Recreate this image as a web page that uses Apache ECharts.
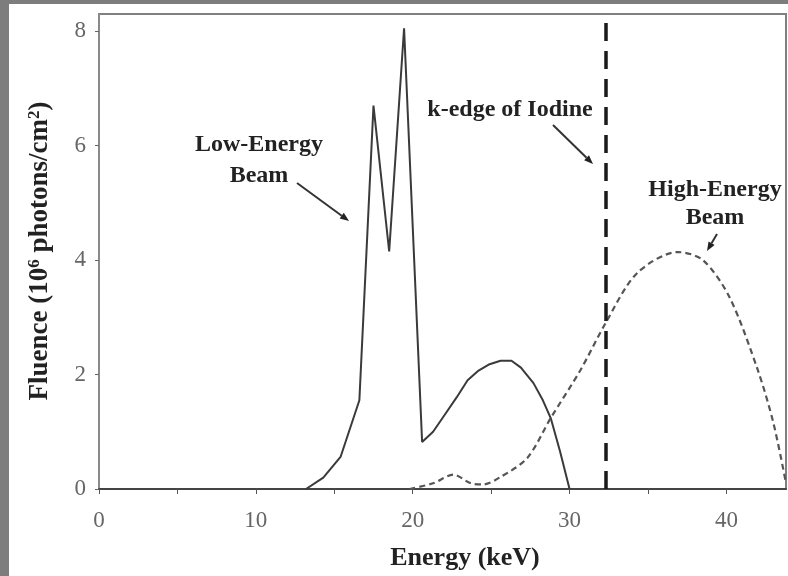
<!DOCTYPE html>
<html>
<head>
<meta charset="utf-8">
<script src="https://cdn.jsdelivr.net/npm/echarts@6/dist/echarts.min.js"></script>
<style>
  html, body { margin: 0; padding: 0; background: #fff; }
  #chart { width: 788px; height: 576px; }
</style>
</head>
<body>
<div id="chart"></div>
<script>
// energy (keV) / fluence (10^6 photons/cm^2)
var lowEnergy  = [13.2, 14.3, 15.4, 16.6, 17.5, 18.5, 19.45, 20.6, 21.3, 22.0, 22.8, 23.5, 24.2, 24.9, 25.6, 26.3, 26.9, 27.7, 28.3, 28.8, 29.4, 30.0];
var lowFluence = [0, 0.2, 0.56, 1.55, 6.7, 4.15, 8.05, 0.82, 1.0, 1.28, 1.6, 1.9, 2.07, 2.18, 2.24, 2.24, 2.12, 1.85, 1.55, 1.24, 0.65, 0];
var highEnergy  = [19.8, 21.3, 22.6, 23.7, 24.5, 25.6, 27.3, 28.8, 30.7, 32.3, 34.3, 36.9, 38.5, 40.2, 42.0, 43.0, 43.8];
var highFluence = [0, 0.1, 0.25, 0.1, 0.08, 0.21, 0.54, 1.24, 2.08, 2.9, 3.77, 4.14, 4.0, 3.35, 2.08, 1.15, 0.1];
var kEdge = 32.3;
var xTicks = [0, 5, 10, 15, 20, 25, 30, 35, 40];
var xLabels = [0, 10, 20, 30, 40];
var yTicks = [0, 2, 4, 6, 8];

var chart = echarts.init(document.getElementById("chart"));
var serif = "Liberation Serif";

function pairs(xs, ys) {
  return xs.map(function (x, i) { return [x, ys[i]]; });
}

// line with a small filled head at (x2,y2)
function arrow(x1, y1, x2, y2) {
  var a = Math.atan2(y2 - y1, x2 - x1), L = 9, W = 3.5;
  var bx = x2 - L * Math.cos(a), by = y2 - L * Math.sin(a);
  return {
    type: "group",
    children: [
      { type: "line", shape: { x1: x1, y1: y1, x2: bx, y2: by }, style: { stroke: "#333", lineWidth: 2 } },
      { type: "polygon", shape: { points: [[x2, y2],
          [bx + W * Math.sin(a), by - W * Math.cos(a)],
          [bx - W * Math.sin(a), by + W * Math.cos(a)]] },
        style: { fill: "#222" } }
    ]
  };
}

// centred bold text at (x,y)
function label(text, x, y, size, lh) {
  return {
    type: "text", x: x, y: y,
    style: { text: text, font: "bold " + size + "px '" + serif + "'", fill: "#222",
             align: "center", verticalAlign: "middle", lineHeight: lh || 28 }
  };
}

var option = {
  backgroundColor: "#fff",
  animation: false,
  grid: { left: 99, top: 14, width: 687, height: 475, show: true, borderColor: "#808080", borderWidth: 2 },
  xAxis: {
    type: "value", min: 0, max: 43.8,
    splitLine: { show: false },
    axisLine: { lineStyle: { color: "#444", width: 2 } },
    axisTick: { length: 5, customValues: xTicks, lineStyle: { color: "#555" } },
    axisLabel: { customValues: xLabels, margin: 20, color: "#666", fontFamily: serif, fontSize: 23 }
  },
  yAxis: {
    type: "value", min: 0, max: 8.3,
    splitLine: { show: false },
    axisLine: { show: true, lineStyle: { color: "#8a8a8a", width: 2 } },
    axisTick: { show: true, length: 4, customValues: yTicks, lineStyle: { color: "#666" } },
    axisLabel: { customValues: yTicks, margin: 13, color: "#666", fontFamily: serif, fontSize: 23 }
  },
  series: [
    {
      type: "line", name: "Low-Energy Beam", showSymbol: false,
      data: pairs(lowEnergy, lowFluence),
      lineStyle: { color: "#3a3a3a", width: 2 }
    },
    {
      type: "line", name: "High-Energy Beam", showSymbol: false, smooth: 0.3,
      data: pairs(highEnergy, highFluence),
      lineStyle: { color: "#555", width: 2.2, type: [6, 4] },
      markLine: {
        silent: true, symbol: "none", label: { show: false },
        lineStyle: { color: "#1a1a1a", width: 3.5, type: [18, 10] },
        data: [{ xAxis: kEdge }]
      }
    }
  ],
  graphic: [
    // grey frame of the scanned figure
    { type: "rect", left: 0, top: 0, shape: { width: 9, height: 576 }, style: { fill: "#7d7d7d" } },
    { type: "rect", left: 0, top: 0, shape: { width: 788, height: 4 }, style: { fill: "#7d7d7d" } },
    label("Low-Energy\nBeam", 259, 160, 24, 31),
    label("k-edge of Iodine", 510, 110, 24),
    label("High-Energy\nBeam", 715, 204, 24),
    arrow(297, 183, 349, 221),
    arrow(553, 125, 593, 164),
    arrow(717, 234, 707, 251),
    label("Energy (keV)", 465, 558, 26),
    {
      type: "text", x: 40, y: 251, rotation: Math.PI / 2,
      style: {
        text: "{n|Fluence (10}{s|6}{n| photons/cm}{s|2}{n|)}",
        align: "center", verticalAlign: "middle",
        rich: {
          n: { font: "bold 27px '" + serif + "'", fill: "#222" },
          s: { font: "bold 17px '" + serif + "'", fill: "#222", verticalAlign: "top", padding: [0, 0, 11, 0] }
        }
      }
    }
  ]
};
chart.setOption(option);
</script>
</body>
</html>
